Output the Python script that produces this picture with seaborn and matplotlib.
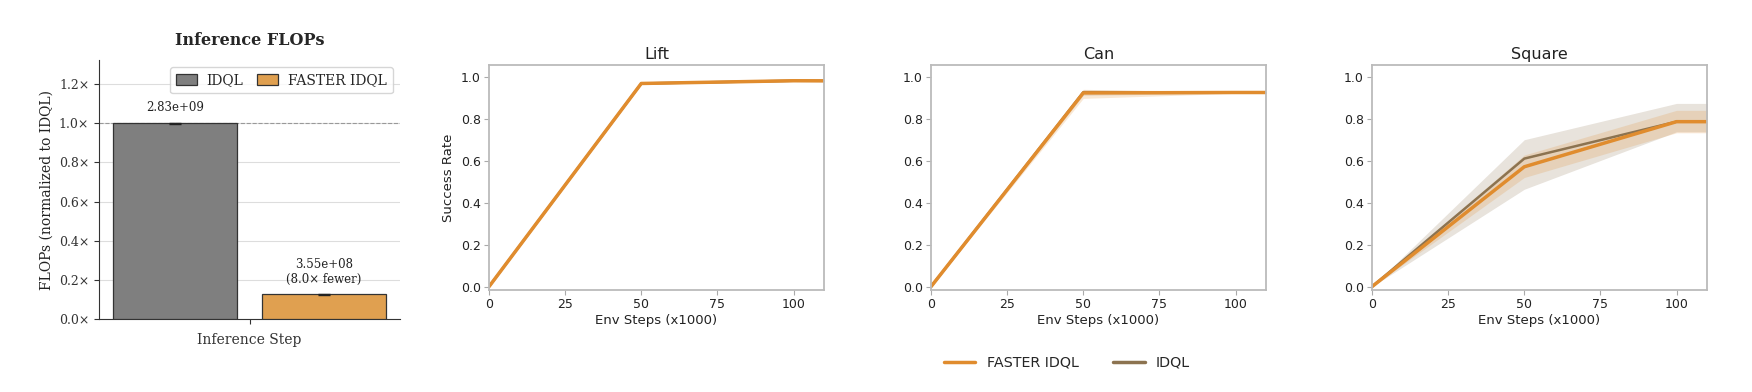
import numpy as np
import pandas as pd
import matplotlib
matplotlib.use("Agg")
import matplotlib.pyplot as plt
import seaborn as sns
from matplotlib.lines import Line2D

sns.set_theme(style="white")
plt.rcParams["font.family"] = ["DejaVu Sans"]

# ---------------- data ----------------
methods_bar = ["IDQL", "FASTER IDQL"]
flops_raw = [2.83e9, 3.55e8]
flops_norm = [1.0, 0.1254]
bar_labels = ["2.83e+09", "3.55e+08\n(8.0\u00d7 fewer)"]

tasks = ["Lift", "Can", "Square"]
env_steps = [0, 50, 100, 150]

faster_mean = {
    "Lift":   [0.0, 0.968, 0.981, 0.979],
    "Can":    [0.0, 0.923, 0.925, 0.925],
    "Square": [0.0, 0.571, 0.786, 0.786],
}
faster_lo = {
    "Lift":   [0.0, 0.964, 0.977, 0.975],
    "Can":    [0.0, 0.897, 0.921, 0.921],
    "Square": [0.0, 0.520, 0.733, 0.733],
}
faster_hi = {
    "Lift":   [0.0, 0.972, 0.986, 0.983],
    "Can":    [0.0, 0.940, 0.929, 0.929],
    "Square": [0.0, 0.627, 0.840, 0.840],
}
idql_mean = {
    "Lift":   [0.0, 0.968, 0.981, 0.979],
    "Can":    [0.0, 0.926, 0.925, 0.925],
    "Square": [0.0, 0.610, 0.786, 0.786],
}
idql_lo = {
    "Lift":   [0.0, 0.965, 0.978, 0.976],
    "Can":    [0.0, 0.912, 0.921, 0.921],
    "Square": [0.0, 0.464, 0.738, 0.738],
}
idql_hi = {
    "Lift":   [0.0, 0.971, 0.985, 0.982],
    "Can":    [0.0, 0.938, 0.929, 0.929],
    "Square": [0.0, 0.700, 0.873, 0.873],
}

GRAY = "#7f7f7f"
ORANGE_BAR = "#e0a050"
ORANGE = "#e08c2e"
IDQL_C = "#8c7350"

W, H = 1752, 392
fig = plt.figure(figsize=(W / 100, H / 100), dpi=100)

# ---------------- bar panel ----------------
axb = fig.add_axes([99 / W, 1 - 319 / H, (400 - 99) / W, (319 - 60) / H])
df_bar = pd.DataFrame({"step": ["Inference Step"] * 2, "method": methods_bar, "norm": flops_norm})
sns.barplot(data=df_bar, x="step", y="norm", hue="method", hue_order=methods_bar,
            palette=[GRAY, ORANGE_BAR], saturation=1, edgecolor="#333333", linewidth=0.9,
            gap=0.167, errorbar=None, ax=axb, zorder=3)
axb.set_xlim(-0.404, 0.404)
axb.set_ylim(0, 1.323)
ticks = [0, 0.2, 0.4, 0.6, 0.8, 1.0, 1.2]
axb.set_yticks(ticks)
axb.set_yticklabels([f"{t:.1f}\u00d7" for t in ticks], family="DejaVu Serif", fontsize=9, color="#333333")
axb.set_xticks([0])
axb.set_xticklabels([""])
axb.set_xlabel("Inference Step", family="DejaVu Serif", fontsize=10, color="#333333", labelpad=3)
axb.set_ylabel("FLOPs (normalized to IDQL)", family="DejaVu Serif", fontsize=10, color="#222222")
axb.set_title("Inference FLOPs", family="DejaVu Serif", fontsize=11.5, fontweight="bold", pad=11)
axb.grid(axis="y", color="#dddddd", linewidth=0.8, zorder=0)
axb.set_axisbelow(True)
axb.axhline(1.0, color="#999999", linestyle="--", linewidth=0.8, zorder=2)
for s in ["top", "right"]:
    axb.spines[s].set_visible(False)
for s in ["left", "bottom"]:
    axb.spines[s].set_color("#333333")
    axb.spines[s].set_linewidth(0.8)
axb.tick_params(axis="both", direction="out", length=3.5, width=0.8, color="#333333", left=True, bottom=True)

bars = [p for p in axb.patches if p.get_height() > 0]
bars = sorted(bars, key=lambda p: p.get_x())
for p, lab in zip(bars, bar_labels):
    cx = p.get_x() + p.get_width() / 2
    h = p.get_height()
    axb.errorbar(cx, h, yerr=0.002, color="#222222", capsize=4, elinewidth=1, capthick=1, zorder=4)
    axb.text(cx, h + 0.045, lab, ha="center", va="bottom", family="DejaVu Serif",
             fontsize=8.5, color="#222222", linespacing=1.15)

leg = axb.legend(loc="upper right", ncol=2, prop={"family": "DejaVu Serif", "size": 10},
                 frameon=True, fancybox=True, edgecolor="#cccccc", handlelength=1.5,
                 handleheight=0.8, borderaxespad=0.5, columnspacing=1.0, handletextpad=0.7,
                 borderpad=0.45)
leg.set_title(None)

# ---------------- line panels ----------------
lefts = [489, 931, 1372]
for task, left in zip(tasks, lefts):
    ax = fig.add_axes([left / W, 1 - 290 / H, 335 / W, (290 - 65) / H])
    x = np.array(env_steps)
    for name, mean, lo, hi, col, lw in [("IDQL", idql_mean, idql_lo, idql_hi, IDQL_C, 1.8),
                                        ("FASTER IDQL", faster_mean, faster_lo, faster_hi, ORANGE, 2.5)]:
        m = np.array(mean[task])
        ax.fill_between(x, lo[task], hi[task], color=col, alpha=0.2, linewidth=0)
        sns.lineplot(x=x, y=m, color=col, linewidth=lw, ax=ax, legend=False)
    ax.set_xlim(0, 110)
    ax.set_ylim(-0.016, 1.056)
    ax.set_xticks([0, 25, 50, 75, 100])
    ax.set_yticks([0.0, 0.2, 0.4, 0.6, 0.8, 1.0])
    ax.set_yticklabels([f"{t:.1f}" for t in [0.0, 0.2, 0.4, 0.6, 0.8, 1.0]])
    ax.tick_params(axis="both", labelsize=9, length=3.5, width=0.8, color="#aaaaaa",
                   labelcolor="#222222", left=True, bottom=True, direction="out", pad=2.5)
    for s in ax.spines.values():
        s.set_visible(True)
        s.set_color("#bbbbbb")
        s.set_linewidth(1.3)
    ax.set_title(task, fontsize=11.5, color="#222222", pad=4)
    ax.set_xlabel("Env Steps (x1000)", fontsize=9.5, color="#222222", labelpad=2)
    if task == "Lift":
        ax.set_ylabel("Success Rate", fontsize=9.5, color="#222222")
    else:
        ax.set_ylabel("")

handles = [Line2D([0], [0], color=ORANGE, linewidth=2.5),
           Line2D([0], [0], color=IDQL_C, linewidth=2.5)]
fig.legend(handles, ["FASTER IDQL", "IDQL"], loc="center", ncol=2,
           bbox_to_anchor=(1067 / W, 1 - 363 / H), frameon=False, fontsize=10.3,
           handlelength=2.2, columnspacing=2.4)

fig.savefig("out.png", dpi=100)
